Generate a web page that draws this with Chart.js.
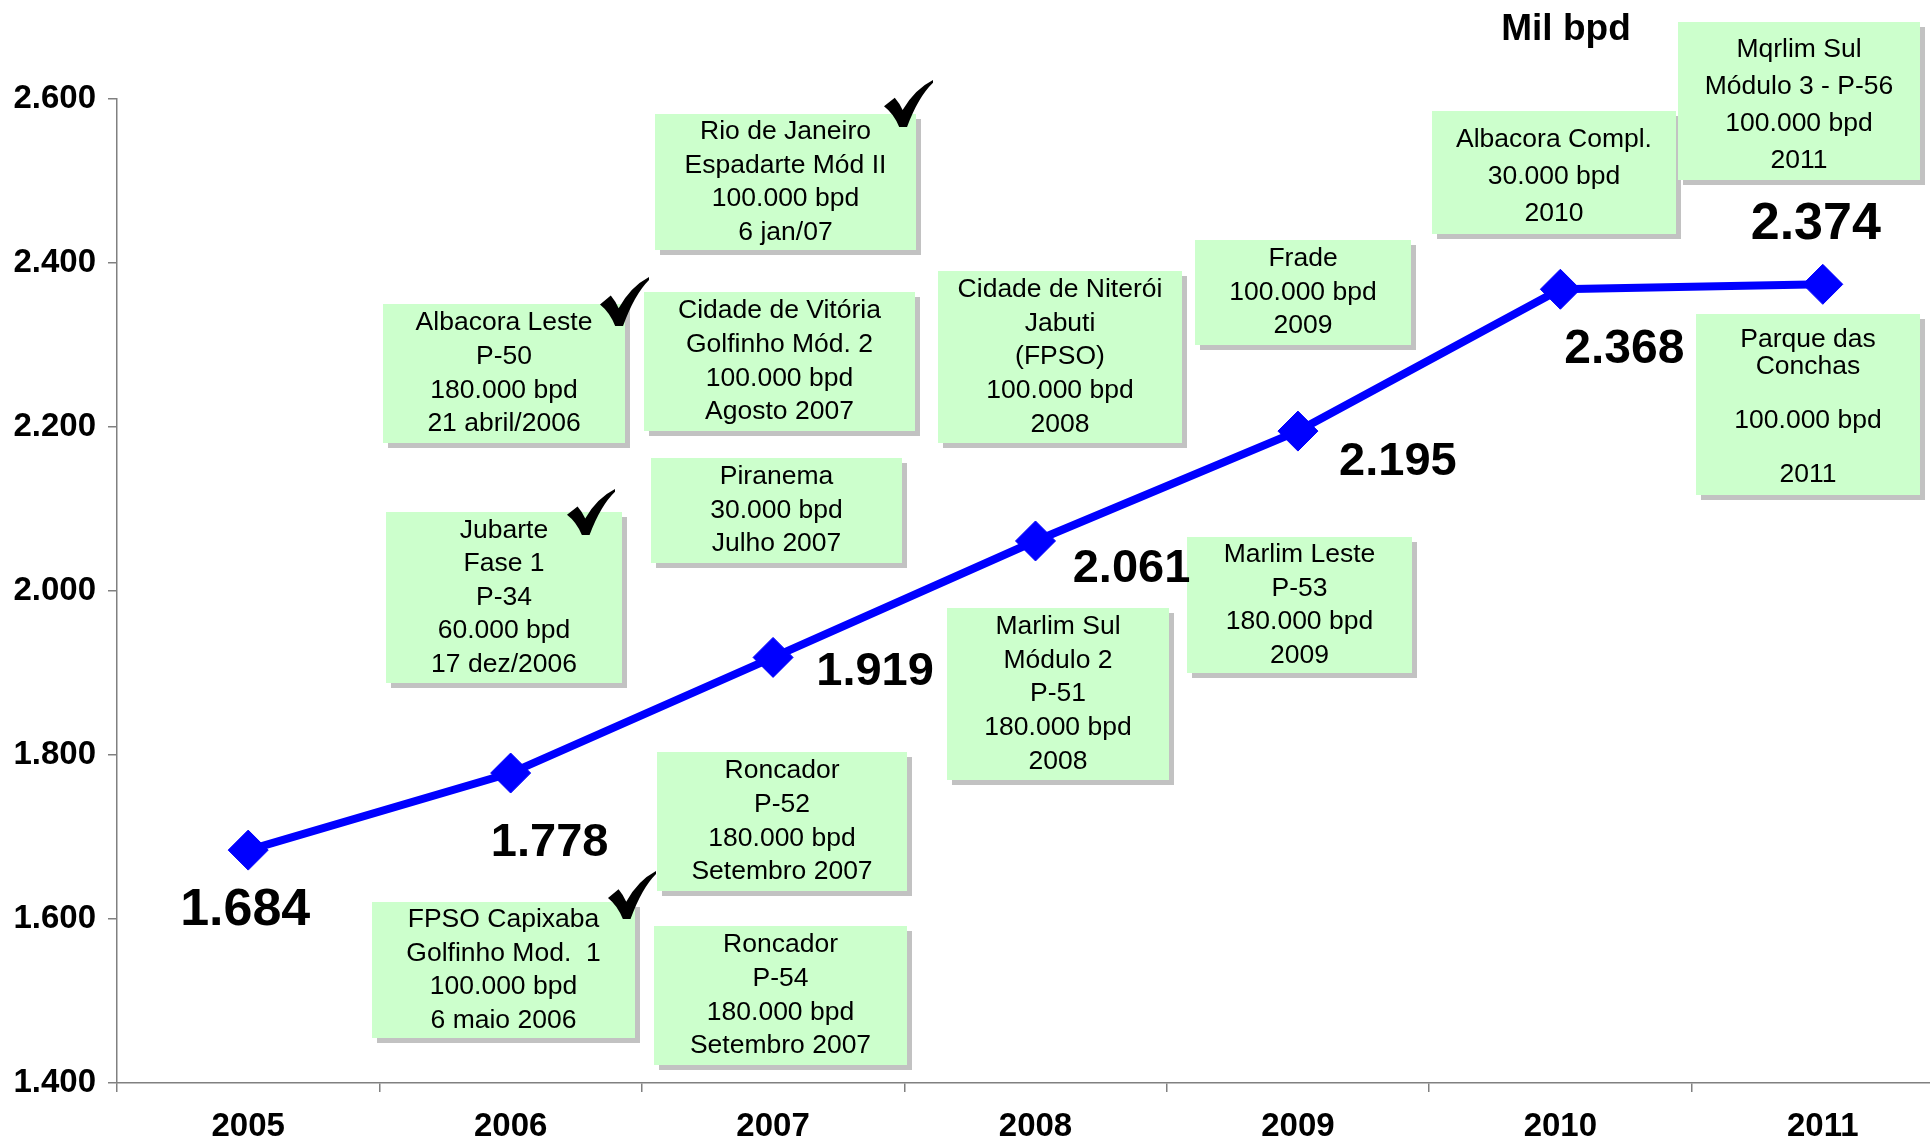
<!DOCTYPE html>
<html>
<head>
<meta charset="utf-8">
<script src="https://cdn.jsdelivr.net/npm/chart.js@4"></script>
<style>
    html, body { margin: 0; padding: 0; overflow: hidden; background: #fff; }
    #wrap { width: 1930px; height: 1142px; overflow: hidden; }
</style>
</head>
<body>
<div id="wrap"><canvas id="chart" width="1975" height="1142"></canvas></div>
<script>
const years = ['2005', '2006', '2007', '2008', '2009', '2010', '2011'];
const production = [1684, 1778, 1919, 2061, 2195, 2368, 2374];
const yMin = 1400;
const yMax = 2600;
const yStep = 200;
const unitLabel = 'Mil bpd';

const projectNotes = [
    ['Rio de Janeiro', 'Espadarte Mód II', '100.000 bpd', '6 jan/07'],
    ['Albacora Leste', 'P-50', '180.000 bpd', '21 abril/2006'],
    ['Cidade de Vitória', 'Golfinho Mód. 2', '100.000 bpd', 'Agosto 2007'],
    ['Cidade de Niterói', 'Jabuti', '(FPSO)', '100.000 bpd', '2008'],
    ['Frade', '100.000 bpd', '2009'],
    ['Albacora Compl.', '30.000 bpd', '2010'],
    ['Mqrlim Sul', 'Módulo 3 - P-56', '100.000 bpd', '2011'],
    ['Parque das', 'Conchas', '', '100.000 bpd', '', '2011'],
    ['Piranema', '30.000 bpd', 'Julho 2007'],
    ['Jubarte', 'Fase 1', 'P-34', '60.000 bpd', '17 dez/2006'],
    ['Marlim Leste', 'P-53', '180.000 bpd', '2009'],
    ['Marlim Sul', 'Módulo 2', 'P-51', '180.000 bpd', '2008'],
    ['Roncador', 'P-52', '180.000 bpd', 'Setembro 2007'],
    ['FPSO Capixaba', 'Golfinho Mod.  1', '100.000 bpd', '6 maio 2006'],
    ['Roncador', 'P-54', '180.000 bpd', 'Setembro 2007'],
];

// layout only: [left, top, width, height, lineHeight, textShift] for each note box
const noteBoxes = [
    [655, 114, 261, 136, 33.6, 0],
    [383, 304, 242, 139, 33.6, 0],
    [644, 292, 271, 139, 33.6, 0],
    [938, 271, 244, 172, 33.6, 0],
    [1195, 240, 216, 105, 33.6, 0],
    [1432, 111, 244, 123, 37, 4],
    [1678, 22, 242, 158, 37, 4],
    [1696, 314, 224, 181, 27, 3],
    [651, 458, 251, 105, 33.6, 0],
    [386, 512, 236, 171, 33.6, 0],
    [1187, 537, 225, 136, 33.6, 0],
    [947, 608, 222, 172, 33.6, 0],
    [657, 752, 250, 139, 33.6, 0],
    [372, 902, 263, 136, 33.6, 0],
    [654, 926, 253, 139, 33.6, 0],
];

// check marks next to finished projects: [left, top, width, height]
const checkMarks = [
    [884, 80, 49, 47],
    [600, 277, 49, 49],
    [567, 489, 48, 46],
    [608, 871, 48, 48],
];

// value label offsets from each point and font size
const labelOffsets = [[-3, 61, 52], [39, 70, 47], [102, 15, 47], [96, 28, 47], [100, 31, 47], [64, 61, 48], [-7, -60, 52]];

const FONT = "'Liberation Sans', Arial, sans-serif";

function fmt(n) {
    const s = String(Math.round(n));
    return s.replace(/\B(?=(\d{3})+(?!\d))/g, '.');
}

function drawCheck(ctx, x, y, w, h) {
    ctx.save();
    ctx.translate(x, y);
    ctx.scale(w, h);
    ctx.beginPath();
    ctx.moveTo(0.0, 0.56);
    ctx.lineTo(0.22, 0.38);
    ctx.quadraticCurveTo(0.32, 0.5, 0.38, 0.64);
    ctx.quadraticCurveTo(0.62, 0.2, 1.0, 0.0);
    ctx.lineTo(1.0, 0.06);
    ctx.quadraticCurveTo(0.7, 0.36, 0.47, 1.0);
    ctx.lineTo(0.31, 1.0);
    ctx.quadraticCurveTo(0.2, 0.72, 0.0, 0.56);
    ctx.closePath();
    ctx.fillStyle = '#000';
    ctx.fill();
    ctx.restore();
}

const notesPlugin = {
    id: 'notes',
    beforeDatasetsDraw(chart) {
        const ctx = chart.ctx;
        ctx.save();
        noteBoxes.forEach((b, i) => {
            const [l, t, w, h, lh, shift] = b;
            ctx.fillStyle = '#c2c2c2';
            ctx.fillRect(l + 5, t + 5, w, h);
            ctx.fillStyle = '#ccffcc';
            ctx.fillRect(l, t, w, h);
            const lines = projectNotes[i];
            ctx.fillStyle = '#000';
            ctx.font = '26.5px ' + FONT;
            ctx.textAlign = 'center';
            ctx.textBaseline = 'middle';
            const mid = t + h / 2 + shift;
            const first = mid - (lines.length - 1) / 2 * lh;
            lines.forEach((line, j) => {
                ctx.fillText(line, l + w / 2, first + j * lh);
            });
        });
        checkMarks.forEach((c) => drawCheck(ctx, c[0], c[1], c[2], c[3]));
        ctx.font = 'bold 37px ' + FONT;
        ctx.textAlign = 'center';
        ctx.textBaseline = 'middle';
        ctx.fillText(unitLabel, 1566, 30);
        ctx.restore();
    },
    afterDatasetsDraw(chart) {
        const ctx = chart.ctx;
        const pts = chart.getDatasetMeta(0).data;
        ctx.save();
        ctx.fillStyle = '#000';
        ctx.textAlign = 'center';
        ctx.textBaseline = 'middle';
        pts.forEach((p, i) => {
            const [dx, dy, size] = labelOffsets[i];
            ctx.font = 'bold ' + size + 'px ' + FONT;
            ctx.fillText(fmt(production[i]), p.x + dx, p.y + dy);
        });
        ctx.restore();
    }
};

Chart.defaults.font.family = FONT;

new Chart(document.getElementById('chart'), {
    type: 'line',
    data: {
        labels: years,
        datasets: [{
            data: production,
            borderColor: '#0000ff',
            backgroundColor: '#0000ff',
            borderWidth: 8,
            pointStyle: 'rectRot',
            pointRadius: 20,
            pointBorderWidth: 1,
            tension: 0,
        }],
    },
    options: {
        responsive: false,
        animation: false,
        devicePixelRatio: 1,
        layout: { padding: { top: 99, right: 11, left: 0, bottom: 0 } },
        plugins: { legend: { display: false }, tooltip: { enabled: false } },
        scales: {
            x: {
                offset: true,
                grid: { offset: true, drawOnChartArea: false, drawTicks: true, tickLength: 9, color: '#808080', lineWidth: 1.5 },
                border: { display: true, color: '#808080', width: 1.5 },
                ticks: { color: '#000', font: { size: 33, weight: 'bold' }, padding: 15, maxRotation: 0 },
                afterFit(s) { s.height = 59; },
            },
            y: {
                min: yMin,
                max: yMax,
                grid: { drawOnChartArea: false, drawTicks: true, tickLength: 9, color: '#808080', lineWidth: 1.5 },
                border: { display: true, color: '#808080', width: 1.5 },
                ticks: { stepSize: yStep, color: '#000', font: { size: 33, weight: 'bold' }, padding: 12, callback: (v) => fmt(v) },
                afterFit(s) { s.width = 117; },
            },
        },
    },
    plugins: [notesPlugin],
});
</script>
</body>
</html>
